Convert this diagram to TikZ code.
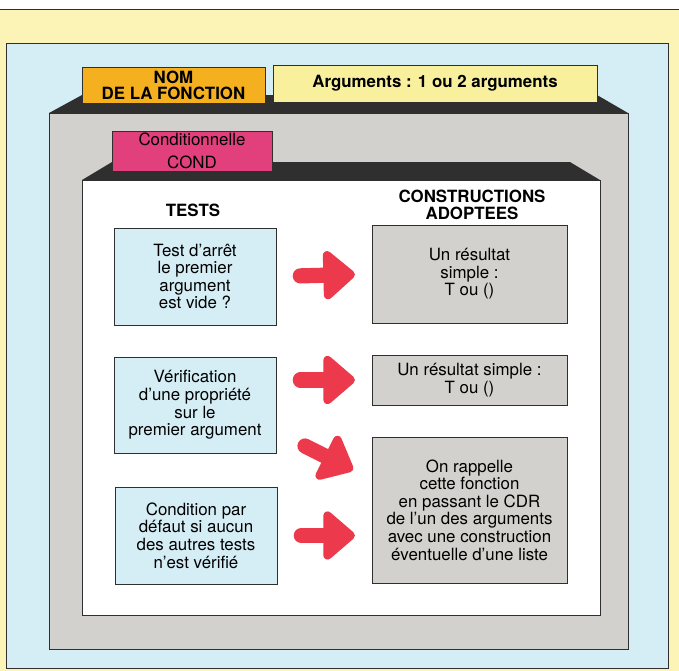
\documentclass[tikz,border=0pt]{standalone}
\usepackage{fontspec}
\setmainfont{TeX Gyre Heros}
\usepackage{tikz}
\usetikzlibrary{arrows.meta, positioning}
\definecolor{myyellow}{HTML}{FBF4B6}
\definecolor{myblue}{HTML}{D5EEF6}
\definecolor{mygray}{HTML}{D3D1CD}
\definecolor{mydark}{HTML}{2F2F2F}
\definecolor{myorange}{HTML}{F4B01E}
\definecolor{mytab}{HTML}{F8F09C}
\definecolor{mypink}{HTML}{E1407C}
\definecolor{myred}{HTML}{EC3A4C}
\tikzset{
	tabnode/.style={
			shape=rectangle,
			draw=mydark,
			thin,
			align=center,
			inner sep=0pt,
			font=\bfseries\fontsize{12}{11.5}\selectfont
		},
	testnode/.style={
			shape=rectangle,
			draw=mydark,
			thin,
			fill=myblue,
			align=center,
			inner sep=0pt,
			minimum width=4.05cm,
			font=\fontsize{12}{12.5}\selectfont
		},
	resultnode/.style={
			testnode,
			fill=mygray,
			minimum width=4.875cm
		},
	headnode/.style={
			align=center,
			inner sep=0pt,
			font=\bfseries\fontsize{12}{12}\selectfont
		},
	bigarrow/.style={
			draw=myred,
			line width=0.38cm,
			line cap=round,
			shorten <=0.6cm,
			shorten >=0.42cm,
			-{Triangle[length=0.85cm, width=1.4cm, round]}
		}
}

\begin{document}
\begin{tikzpicture}[x=0.025cm, y=-0.025cm]

  \useasboundingbox (0,0) rectangle (679,671);

  \fill[myyellow] (0,9) rectangle (679,671);
  \draw[mydark] (0,9) -- (679,9);
  \draw[mydark, fill=myblue] (6,43) rectangle (668,668);

  \fill[mydark] (49,113) -- (82,95) -- (597,95) -- (628,113) -- cycle;
  \draw[mydark, fill=mygray] (49,113) rectangle (628,649);
  \fill[mydark] (82,180) -- (112,162) -- (570,162) -- (600,180) -- cycle;
  \draw[mydark, fill=white] (82,180) rectangle (600,615);

  \node[tabnode, fill=myorange, minimum width=4.575cm, minimum height=0.9cm] (nom) at (173.5,85) {NOM\\DE LA FONCTION};
  \node[tabnode, fill=mytab, minimum width=8.1cm, minimum height=0.925cm] (args) at (435,83.5) {Arguments : 1 ou 2 arguments};
  \node[tabnode, fill=mypink, minimum width=4cm, minimum height=1cm, font=\fontsize{12}{16}\selectfont] (cond) at (192,151) {Conditionnelle\\COND};

  \node[headnode] (tests) at (193,210) {TESTS};
  \node[headnode] (cons) at (472,205) {CONSTRUCTIONS\\ADOPTEES};

  \node[testnode, minimum height=2.425cm] (t1) at (195,276.5) {Test d’arrêt\\le premier\\argument\\est vide ?};
  \node[testnode, minimum height=2.4cm] (t2) at (195,405) {Vérification\\d’une propriété\\sur le\\premier argument};
  \node[testnode, minimum height=2.425cm] (t3) at (196,535.5) {Condition par\\défaut si aucun\\des autres tests\\n’est vérifié};

  \node[resultnode, minimum height=2.45cm] (r1) at (469.5,274) {Un résultat\\simple :\\T ou ()};
  \node[resultnode, minimum height=1.25cm] (r2) at (469.5,380) {Un résultat simple :\\T ou ()};
  \node[resultnode, minimum height=3.65cm] (r3) at (469.5,510) {On rappelle\\cette fonction\\en passant le CDR\\de l’un des arguments\\avec une construction\\éventuelle d’une liste};

  \coordinate (a3s) at (305,446);
  \coordinate (a3e) at (353,470);

  \draw[bigarrow] (t1.east) -- (r1.west);
  \draw[bigarrow] (t2.east |- r2.west) -- (r2.west);
  \draw[bigarrow, shorten <=0pt, shorten >=0pt] (a3s) -- (a3e);
  \draw[bigarrow] (t3.east) -- (r3.west |- t3.east);

\end{tikzpicture}
\end{document}
